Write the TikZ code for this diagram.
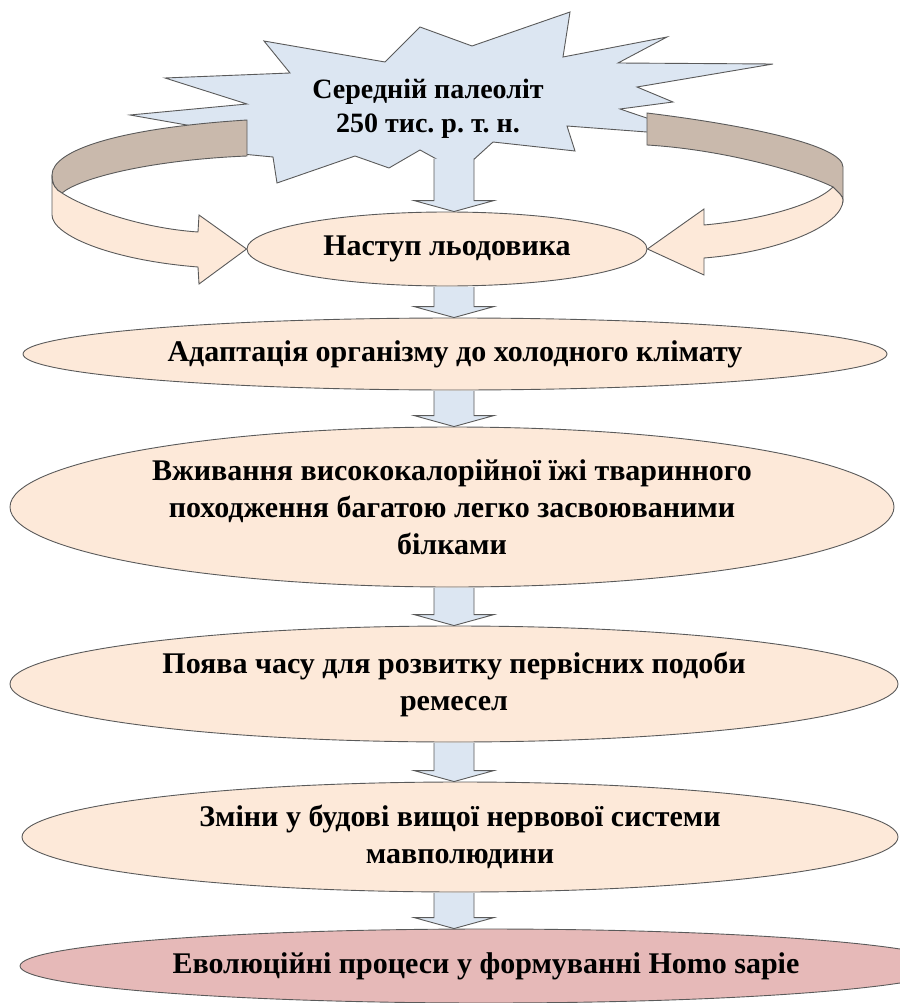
\documentclass[tikz,border=0pt]{standalone}
\usepackage{fontspec}
\setmainfont{Liberation Serif}
\usetikzlibrary{shapes.geometric,calc}

\definecolor{skyblue}{HTML}{DCE6F2}
\definecolor{peach}{HTML}{FDE9D9}
\definecolor{bark}{HTML}{C9B9AC}
\definecolor{rose}{HTML}{E6B9B8}
\definecolor{rimgray}{HTML}{5A5A5A}

\tikzset{
  outline/.style={draw=rimgray, line width=0.9pt, line join=miter},
  stage/.style={ellipse, outline, fill=peach, inner sep=0pt, align=center,
    font=\fontsize{30}{37}\selectfont\bfseries\frenchspacing},
}

\begin{document}
\begin{tikzpicture}[x=1pt,y=-1pt]
  \useasboundingbox (0,0) rectangle (899,1003);
  % star
  \draw[outline, fill=skyblue] (130,115) -- (247,104) -- (165,78) -- (290,73) -- (264,41)
    -- (385,62) -- (420,27) -- (472,46) -- (570,12) -- (563,57) -- (667,37) -- (618,63)
    -- (773,64) -- (637,87) -- (673,102) -- (620,109) -- (700,136) -- (567,126) -- (575,151)
    -- (493,142) -- (460,172) -- (420,150) -- (389,168) -- (355,156) -- (277,183) -- (273,157)
    -- (200,150) -- (215,130) -- cycle;
  \node[font=\fontsize{28}{34}\selectfont\bfseries\frenchspacing, align=center] (star) at (428,109)
    {Середній палеоліт\\250 тис. р. т. н.};
  \coordinate (axis) at (454,0);
  \coordinate (startail) at (454,158);

  \node[stage, minimum width=400, minimum height=74] (e1) at (447,249) {Наступ льодовика};
  \node[stage, minimum width=864, minimum height=72] (e2) at (455,354)
    {Адаптація організму до холодного клімату};
  \node[stage, minimum width=884, minimum height=160] (e3) at (452,507)
    {Вживання висококалорійної їжі тваринного\\походження багатою легко засвоюваними\\білками};
  \node[stage, minimum width=888, minimum height=116] (e4) at (454,684)
    {Поява часу для розвитку первісних подоби\\ремесел};
  \node[stage, minimum width=876, minimum height=110] (e5) at (460,837)
    {Зміни у будові вищої нервової системи\\мавполюдини};
  \node[stage, fill=rose, minimum width=932, minimum height=74] (e6) at (486,966)
    {Еволюційні процеси у формуванні Homo sapie};

  % left loop
  \draw[outline, fill=bark] (247,120) .. controls (120,128) and (52,150) .. (52,175)
    .. controls (52,185) and (56,190) .. (62,193)
    .. controls (80,178) and (150,160) .. (247,156) -- cycle;
  \draw[outline, fill=peach] (52,175) -- (52,215) .. controls (52,235) and (110,260) .. (198,267)
    -- (199,284) -- (e1.west) -- (199,215) -- (198,232)
    .. controls (140,228) and (85,208) .. (62,193)
    .. controls (56,190) and (52,185) .. (52,175) -- cycle;
  % right loop
  \draw[outline, fill=bark] (647,113) .. controls (745,125) and (843,145) .. (843,167)
    -- (843,200) .. controls (843,196) and (838,192) .. (833,187)
    .. controls (810,175) and (730,150) .. (647,145) -- cycle;
  \draw[outline, fill=peach] (843,200) .. controls (843,225) and (780,252) .. (704,258)
    -- (704,275) -- (e1.east) -- (704,209) -- (704,225)
    .. controls (760,220) and (815,205) .. (833,187)
    .. controls (838,192) and (843,196) .. (843,200) -- cycle;

  % block arrows down
  \foreach \a/\b in {startail/e1.north, e1.south/e2.north, e2.south/e3.north,
                     e3.south/e4.north, e4.south/e5.north, e5.south/e6.north} {
    \path (axis |- \a) coordinate (p) (axis |- \b) coordinate (q);
    \draw[outline, fill=skyblue] ($(p)+(-20,0.6)$) -- ($(q)+(-20,-11)$) -- ($(q)+(-40,-11)$)
      -- (q) -- ($(q)+(40,-11)$) -- ($(q)+(20,-11)$) -- ($(p)+(20,0.6)$);
  }
\end{tikzpicture}
\end{document}
